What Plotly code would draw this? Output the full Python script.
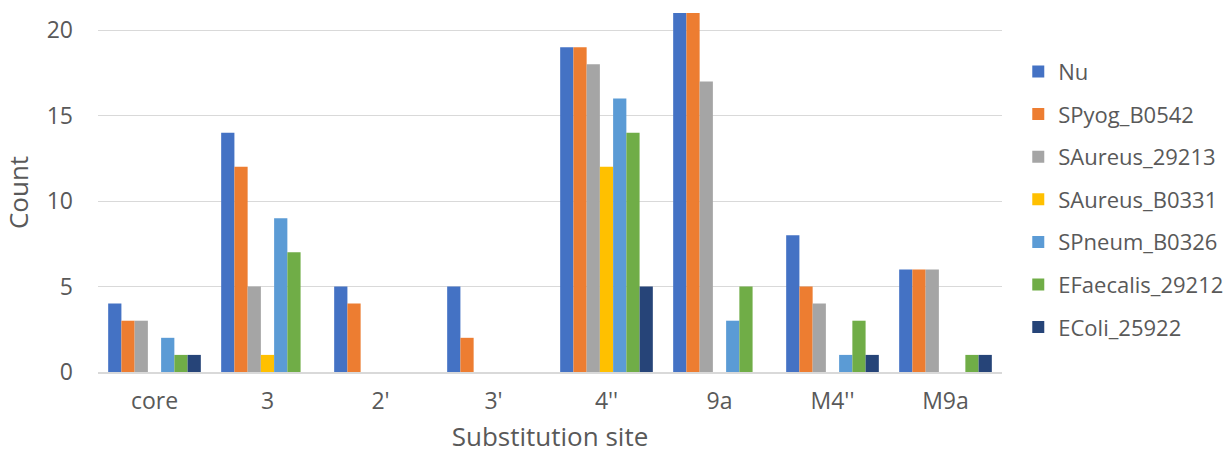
import plotly.graph_objects as go

# Substitution sites on the x axis
sites = ["core", "3", "2'", "3'", "4''", "9a", "M4''", "M9a"]

# Counts per strain at each site
nu = [4, 14, 5, 5, 19, 21, 8, 6]
spyog_b0542 = [3, 12, 4, 2, 19, 21, 5, 6]
saureus_29213 = [3, 5, 0, 0, 18, 17, 4, 6]
saureus_b0331 = [0, 1, 0, 0, 12, 0, 0, 0]
spneum_b0326 = [2, 9, 0, 0, 16, 3, 1, 0]
efaecalis_29212 = [1, 7, 0, 0, 14, 5, 3, 1]
ecoli_25922 = [1, 0, 0, 0, 5, 0, 1, 1]

series = [
    ("Nu", nu, "#4472C4"),
    ("SPyog_B0542", spyog_b0542, "#ED7D31"),
    ("SAureus_29213", saureus_29213, "#A5A5A5"),
    ("SAureus_B0331", saureus_b0331, "#FFC000"),
    ("SPneum_B0326", spneum_b0326, "#5B9BD5"),
    ("EFaecalis_29212", efaecalis_29212, "#70AD47"),
    ("EColi_25922", ecoli_25922, "#264478"),
]

FONT = "Open Sans, Segoe UI, sans-serif"
GREY = "#595959"

fig = go.Figure()
for i, (name, vals, color) in enumerate(series):
    fig.add_trace(go.Bar(
        name=name, x=sites, y=vals,
        marker=dict(color=color, line=dict(width=0)),
        legendgroup=f"g{i}",
    ))

fig.update_layout(
    width=1230, height=454,
    barmode="group", bargap=0.18, bargroupgap=0,
    plot_bgcolor="white", paper_bgcolor="white",
    margin=dict(l=98, r=228, t=13, b=82, autoexpand=False),
    font=dict(family=FONT, color=GREY, size=22),
    showlegend=True,
    legend=dict(
        x=1.018, xanchor="left", y=0.895, yanchor="top",
        font=dict(family=FONT, size=22, color=GREY),
        tracegroupgap=11, itemwidth=30,
        bgcolor="rgba(0,0,0,0)",
    ),
    xaxis=dict(
        showgrid=False, showline=True, linecolor="#D9D9D9", linewidth=1.5,
        tickfont=dict(size=23, color=GREY), ticks="",
        ticklabelstandoff=8,
        title=dict(text="Substitution site", font=dict(size=26, color=GREY), standoff=12),
    ),
    yaxis=dict(
        range=[0, 21.0], tickvals=[0, 5, 10, 15, 20],
        showgrid=True, gridcolor="#D9D9D9", gridwidth=1.3,
        zeroline=False, showline=False,
        tickfont=dict(size=23, color=GREY), ticks="",
        ticklabelstandoff=24,
        title=dict(text="Count", font=dict(size=26, color=GREY), standoff=10),
    ),
)

fig.write_html("out.html")
